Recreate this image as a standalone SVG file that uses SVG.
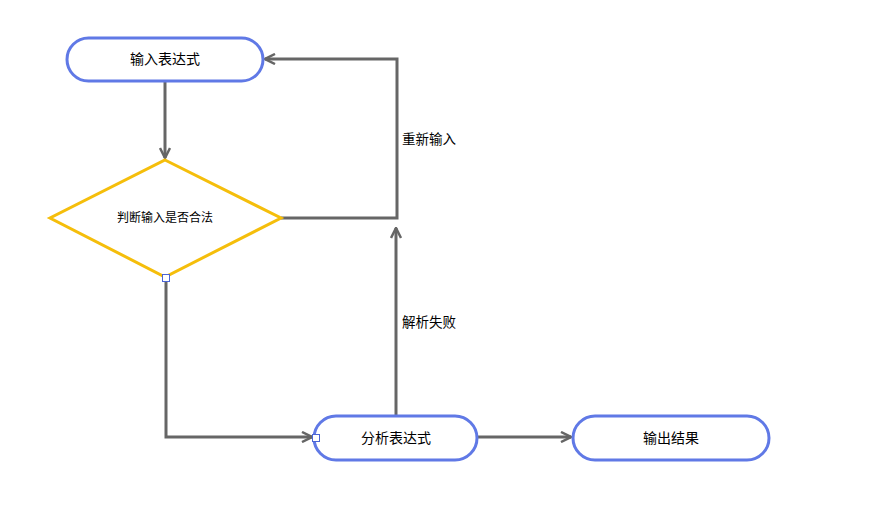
<svg xmlns="http://www.w3.org/2000/svg" width="869" height="515" viewBox="0 0 869 515">
<style>
.term{fill:#fff;stroke:#6079e6;stroke-width:3}
.dec{fill:#fff;stroke:#f5be0b;stroke-width:3}
.lbl{font-family:"Liberation Sans","Noto Sans CJK SC",sans-serif;font-size:14px;fill:#000;text-anchor:middle;dominant-baseline:central}
.edge{fill:none;stroke:#666;stroke-width:3}
.elbl{font-family:"Liberation Sans","Noto Sans CJK SC",sans-serif;font-size:13.5px;fill:#000;dominant-baseline:central}
.pt{fill:#fff;stroke:#4a64d6;stroke-width:1}
</style>
<defs>
<marker id="arr" viewBox="0 0 12 12" refX="11" refY="6" markerWidth="12" markerHeight="12" markerUnits="userSpaceOnUse" orient="auto">
<path d="M1,1 L11,6 L1,11" fill="none" stroke="#666" stroke-width="2.5"/>
</marker>
</defs>
<rect width="869" height="515" fill="#fff"/>
<g id="connectors">
<path class="edge" d="M165,82 L165,158" marker-end="url(#arr)"/>
<path class="edge" d="M281,218 L397,218 L397,59 L265,59" marker-end="url(#arr)"/>
<text class="elbl" x="402" y="139">重新输入</text>
<path class="edge" d="M396,416 L396,228" marker-end="url(#arr)"/>
<text class="elbl" x="402" y="322">解析失败</text>
<path class="edge" d="M166,278 L166,437 L312,437" marker-end="url(#arr)"/>
<path class="edge" d="M477,437 L571,437" marker-end="url(#arr)"/>
</g>
<g id="n1">
<rect class="term" x="67" y="38" width="196" height="43" rx="21.5"/>
<text class="lbl" x="165" y="59">输入表达式</text>
</g>
<g id="n2">
<polygon class="dec" points="165,160 281,218 165,277 50,218"/>
<text class="lbl" x="165" y="218" style="font-size:12px">判断输入是否合法</text>
<rect class="pt" x="162.5" y="274.5" width="7" height="7"/>
</g>
<g id="n3">
<rect class="term" x="314" y="416" width="163" height="44" rx="22"/>
<text class="lbl" x="396" y="438">分析表达式</text>
<rect class="pt" x="312.5" y="434.5" width="7" height="7"/>
</g>
<g id="n4">
<rect class="term" x="573" y="416" width="196" height="44" rx="22"/>
<text class="lbl" x="671" y="438">输出结果</text>
</g>
</svg>
